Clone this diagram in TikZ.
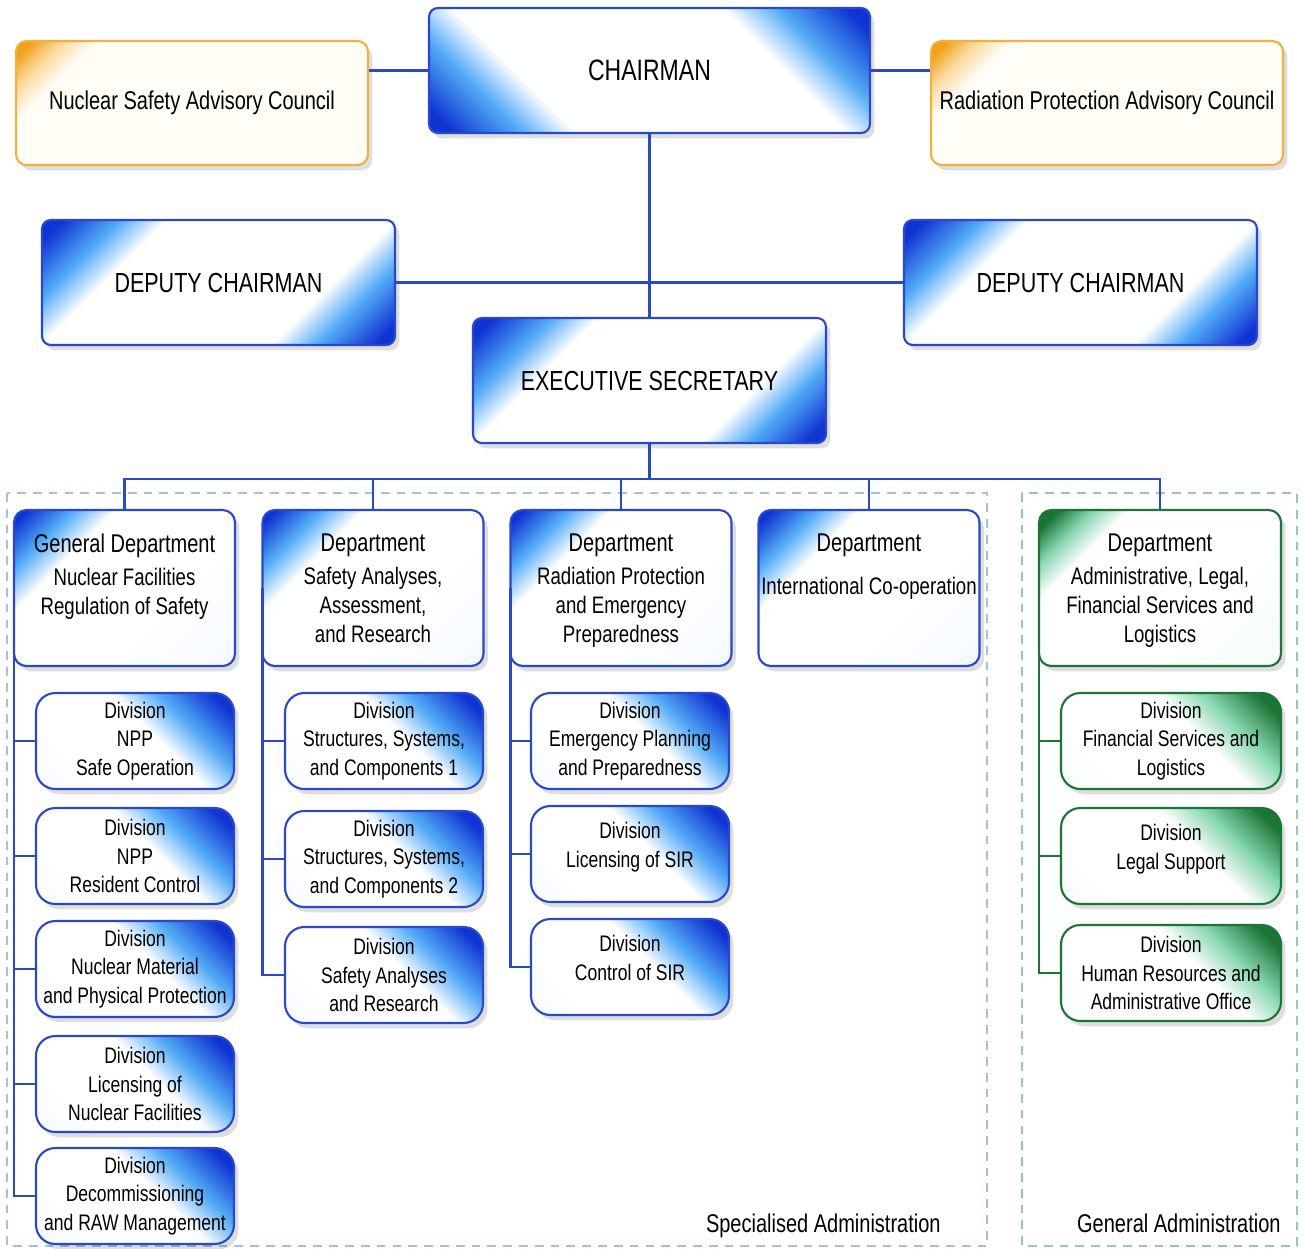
\documentclass[tikz,border=0pt]{standalone}
\usepackage{fontspec}
\setmainfont{Liberation Sans}[FakeStretch=0.78]
\usepackage{tikz}
\usetikzlibrary{shadows, calc}
\definecolor{ntdeep}{HTML}{1034D2}
\definecolor{ntsky}{HTML}{52AAF6}
\definecolor{ntpale}{HTML}{EEF5FE}
\definecolor{ntline}{HTML}{2A48CA}
\definecolor{ntorange}{HTML}{F0A21E}
\definecolor{ntpeach}{HTML}{FAD89A}
\definecolor{ntcream}{HTML}{FFFDF6}
\definecolor{ntgreen}{HTML}{1B7536}
\definecolor{ntmint}{HTML}{86D6B0}
\definecolor{ntmintpale}{HTML}{EEFAF4}
\definecolor{ntdashblue}{HTML}{A5BFE5}
\definecolor{ntdashgreen}{HTML}{8FCCA9}
% corner fades, all used at 45 degrees
\pgfdeclarehorizontalshading{ntbluetwo}{100bp}{color(0bp)=(ntdeep); color(17.5bp)=(ntdeep); color(26bp)=(ntsky); color(33bp)=(white); color(67bp)=(white); color(74bp)=(ntsky); color(82.5bp)=(ntdeep); color(100bp)=(ntdeep)}
\pgfdeclarehorizontalshading{ntbluedept}{100bp}{color(0bp)=(ntdeep); color(17bp)=(ntdeep); color(25.5bp)=(ntsky); color(33.5bp)=(white); color(60bp)=(white); color(100bp)=(ntpale)}
\pgfdeclarehorizontalshading{ntbluediv}{100bp}{color(0bp)=(ntdeep); color(20bp)=(ntdeep); color(33bp)=(ntsky); color(44bp)=(white); color(70bp)=(white); color(100bp)=(ntpale)}
\pgfdeclarehorizontalshading{ntorangedept}{100bp}{color(0bp)=(ntorange); color(17bp)=(ntorange); color(21.3bp)=(ntpeach); color(26.5bp)=(ntcream); color(100bp)=(ntcream)}
\pgfdeclarehorizontalshading{ntgreendept}{100bp}{color(0bp)=(ntgreen); color(18bp)=(ntgreen); color(24bp)=(ntmint); color(30.6bp)=(white); color(60bp)=(white); color(100bp)=(ntmintpale)}
\pgfdeclarehorizontalshading{ntgreendiv}{100bp}{color(0bp)=(ntgreen); color(20bp)=(ntgreen); color(32bp)=(ntmint); color(42.6bp)=(white); color(70bp)=(white); color(100bp)=(ntmintpale)}

\begin{document}
\begin{tikzpicture}[x=0.02cm, y=0.02cm,
    ntlink/.style={draw=ntline, line width=1.2pt},
    ntshadow/.style={drop shadow={shadow xshift=2.5pt, shadow yshift=-3pt, fill=black, opacity=0.13}},
    topbox/.style={draw=ntline, line width=1.2pt, rounded corners=5pt, ntshadow,
      shading=ntbluetwo, shading angle=-45, minimum width=7.06cm, minimum height=2.5cm,
      font=\fontsize{15.7}{19}\selectfont},
    council/.style={draw=ntorange!85!white, line width=1.2pt, rounded corners=6pt, ntshadow,
      shading=ntorangedept, shading angle=-45, minimum width=7.04cm, minimum height=2.48cm,
      inner xsep=2pt, font=\fontsize{14.6}{18}\selectfont},
    deptbox/.style={draw=ntline, line width=1.2pt, rounded corners=7pt, ntshadow,
      shading=ntbluedept, shading angle=-45, minimum width=4.42cm, minimum height=3.12cm},
    greendept/.style={deptbox, draw=ntgreen, shading=ntgreendept, minimum width=4.84cm},
    depttext/.style={label={[anchor=north, align=center, inner sep=0pt, yshift=-14pt,
      font=\fontsize{13.6}{16.4}\selectfont]north:#1}},
    divbox/.style={draw=ntline, line width=1.2pt, rounded corners=11pt, ntshadow,
      shading=ntbluediv, shading angle=-135, minimum width=3.96cm, minimum height=1.92cm,
      inner xsep=2pt, align=center, font=\fontsize{12.8}{16.2}\selectfont},
    greendiv/.style={divbox, draw=ntgreen, shading=ntgreendiv, minimum width=4.4cm},
    region/.style={dash pattern=on 5pt off 4pt, line width=0.9pt},
    regionlabel/.style={anchor=base east, inner sep=0pt, font=\fontsize{14.6}{18}\selectfont}
  ]
  \fill[white] (0,0) rectangle (1304,-1248);
  \useasboundingbox (0,0) rectangle (1304,-1248);

  % administration frames
  \draw[region, draw=ntdashblue] (7,-493) rectangle (987,-1246);
  \draw[region, draw=ntdashgreen] (1022,-493) rectangle (1297,-1246);
  \node[regionlabel] (speclabel) at (941,-1232) {Specialised Administration};
  \node[regionlabel] (genlabel) at (1281,-1232) {General Administration};

  % management
  \node[council] (nsac) at (192,-103) {Nuclear Safety Advisory Council};
  \node[council] (rpac) at (1107,-103) {Radiation Protection Advisory Council};
  \node[topbox, shading angle=45, minimum width=8.82cm, font=\fontsize{16.8}{20}\selectfont]
    (chair) at (649.5,-70.5) {CHAIRMAN};
  \node[topbox] (depleft) at (218.5,-282.5) {DEPUTY CHAIRMAN};
  \node[topbox] (depright) at (1080.5,-282.5) {DEPUTY CHAIRMAN};
  \node[topbox] (exec) at (649.5,-380.5) {EXECUTIVE SECRETARY};

  % departments
  \node[deptbox, depttext={{\fontsize{14.6}{17}\selectfont General Department}\\[2.3pt]
    Nuclear Facilities\\Regulation of Safety}] (dept1) at (124.5,-588) {};
  \node[deptbox, depttext={{\fontsize{14.6}{17}\selectfont Department}\\[2.3pt]
    Safety Analyses,\\Assessment,\\and Research}] (dept2) at (373,-588) {};
  \node[deptbox, depttext={{\fontsize{14.6}{17}\selectfont Department}\\[2.3pt]
    Radiation Protection\\and Emergency\\Preparedness}] (dept3) at (621,-588) {};
  \node[deptbox, depttext={{\fontsize{14.6}{17}\selectfont Department}\\[8pt]
    International Co-operation}] (dept4) at (869,-588) {};
  \node[greendept, depttext={{\fontsize{14.6}{17}\selectfont Department}\\[2.3pt]
    Administrative, Legal,\\Financial Services and\\Logistics}] (dept5) at (1160,-588) {};

  % divisions
  \foreach \dname/\dy/\dtext in {d11/741/{Division\\NPP\\Safe Operation},
      d12/856/{Division\\NPP\\Resident Control},
      d13/969/{Division\\Nuclear Material\\and Physical Protection},
      d14/1084/{Division\\Licensing of\\Nuclear Facilities},
      d15/1196/{Division\\Decommissioning\\and RAW Management}}
    \node[divbox] (\dname) at (135,-\dy) {\dtext};
  \foreach \dname/\dy/\dtext in {d21/741/{Division\\Structures, Systems,\\and Components 1},
      d22/859/{Division\\Structures, Systems,\\and Components 2},
      d23/975/{Division\\Safety Analyses\\and Research}}
    \node[divbox] (\dname) at (384,-\dy) {\dtext};
  \foreach \dname/\dy/\dtext in {d31/741/{Division\\Emergency Planning\\and Preparedness},
      d32/854/{Division\\Licensing of SIR\\[-6pt]},
      d33/967/{Division\\Control of SIR\\[-6pt]}}
    \node[divbox] (\dname) at (630,-\dy) {\dtext};
  \foreach \dname/\dy/\dtext in {d51/741/{Division\\Financial Services and\\Logistics},
      d52/856/{Division\\Legal Support\\[-6pt]},
      d53/973/{Division\\Human Resources and\\Administrative Office}}
    \node[greendiv] (\dname) at (1171,-\dy) {\dtext};

  % connectors
  \draw[ntlink] (chair.west) -- (chair.west -| nsac.east);
  \draw[ntlink] (chair.east) -- (chair.east -| rpac.west);
  \draw[ntlink] (chair.south) -- (exec.north);
  \draw[ntlink] (depleft.east) -- (depright.west);
  \draw[ntlink] (exec.south) -- ++(0,-35) coordinate (bus);
  \foreach \i in {1,...,5}
    \draw[ntlink] (dept\i.north) |- (bus);
  \foreach \n in {d11,d12,d13,d14,d15}
    \draw[ntlink] ([xshift=0.6pt]dept1.west) |- (\n.west);
  \foreach \n in {d21,d22,d23}
    \draw[ntlink] ([xshift=0.6pt]dept2.west) |- (\n.west);
  \foreach \n in {d31,d32,d33}
    \draw[ntlink] ([xshift=0.6pt]dept3.west) |- (\n.west);
  \foreach \n in {d51,d52,d53}
    \draw[ntlink, draw=ntgreen] ([xshift=0.6pt]dept5.west) |- (\n.west);
\end{tikzpicture}
\end{document}
